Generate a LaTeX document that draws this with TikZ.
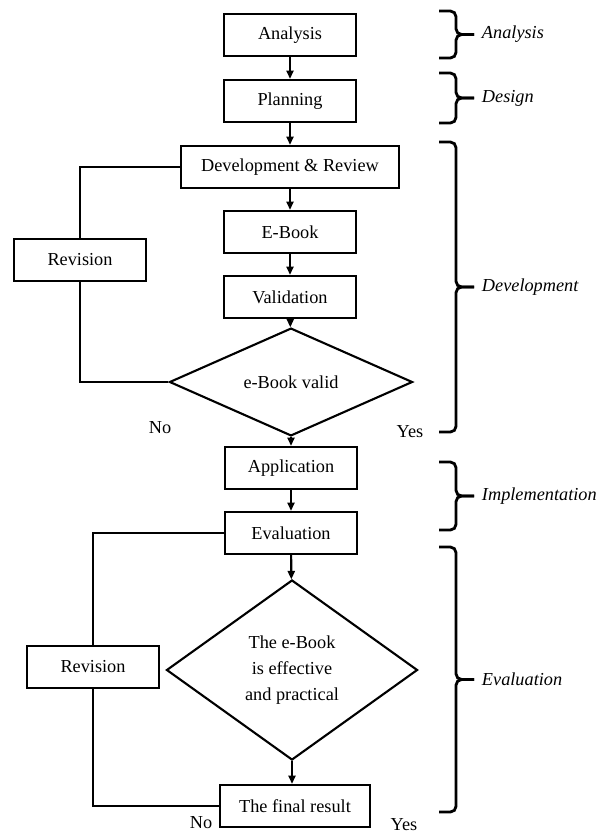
\documentclass[tikz,border=0pt]{standalone}
\usepackage{fontspec}
\setmainfont{Liberation Serif}
\usetikzlibrary{shapes.geometric,arrows.meta}

\begin{document}
\begin{tikzpicture}[x=0.025cm,y=-0.025cm,
  font=\fontsize{13}{15.5}\selectfont,
  stepbox/.style={draw,line width=1.5pt,minimum width=3.3cm,minimum height=1.05cm,inner sep=2pt},
  decision/.style={draw,diamond,line width=1.5pt,inner sep=0pt},
  flow/.style={line width=1.5pt,-{Triangle[length=6pt,width=5pt]}},
  loop/.style={line width=1.5pt},
  phase/.style={line width=2pt,rounded corners=4pt},
  phaselabel/.style={anchor=west,font=\fontsize{13}{15.5}\selectfont\itshape}]
\useasboundingbox (0,0) rectangle (600,836);

% main column
\node[stepbox] (analysis) at (290,35) {Analysis};
\node[stepbox] (planning) at (290,101) {Planning};
\node[stepbox,minimum width=5.45cm] (devreview) at (290,167) {Development \& Review};
\node[stepbox] (ebook) at (290,232) {E-Book};
\node[stepbox] (validation) at (290,297) {Validation};
\node[decision,minimum width=6.075cm,minimum height=2cm] (valid) at (291,382) {e-Book valid};
\node[stepbox] (application) at (291,468) {Application};
\node[stepbox] (evaluation) at (291,533) {Evaluation};
\node[decision,minimum width=6.275cm,minimum height=4.5cm,align=center,
  font=\fontsize{13}{18.4}\selectfont] (effective) at (292,670) {The e-Book\\is effective\\and practical};
\node[stepbox,minimum width=3.75cm] (final) at (295,806) {The final result};

% revision loops
\node[stepbox] (revisionA) at (80,260) {Revision};
\node[stepbox] (revisionB) at (93,667) {Revision};
\node (noA) at (160,428) {No};
\node (yesA) at (410,432) {Yes};
\node (noB) at (201,823) {No};
\node (yesB) at (404,825) {Yes};

\foreach \a/\b in {analysis/planning,planning/devreview,devreview/ebook,ebook/validation,
  validation/valid,valid/application,application/evaluation,evaluation/effective} {
\draw[flow] (\a) -- (\b);
}
\draw[flow] (effective.south) -- (effective.south |- final.north);
\draw[loop] (devreview.west) -| (revisionA.north);
\draw[loop] (revisionA.south) |- (valid.west);
\draw[loop] (evaluation.west) -| (revisionB.north);
\draw[loop] (revisionB.south) |- (final.west);

% phases
\foreach \ytop/\ybot/\name in {11/58/Analysis,73/123/Design,142/432/Development,
  462/530/Implementation,547/812/Evaluation} {
\pgfmathsetmacro{\ymid}{(\ytop+\ybot)/2}
\draw[phase] (439,\ytop) -- (456,\ytop) -- (456,\ymid) -- (474,\ymid);
\draw[phase] (439,\ybot) -- (456,\ybot) -- (456,\ymid) -- (474,\ymid);
\node[phaselabel] (phase\name) at (477,\ymid) {\name};
}
\end{tikzpicture}
\end{document}
